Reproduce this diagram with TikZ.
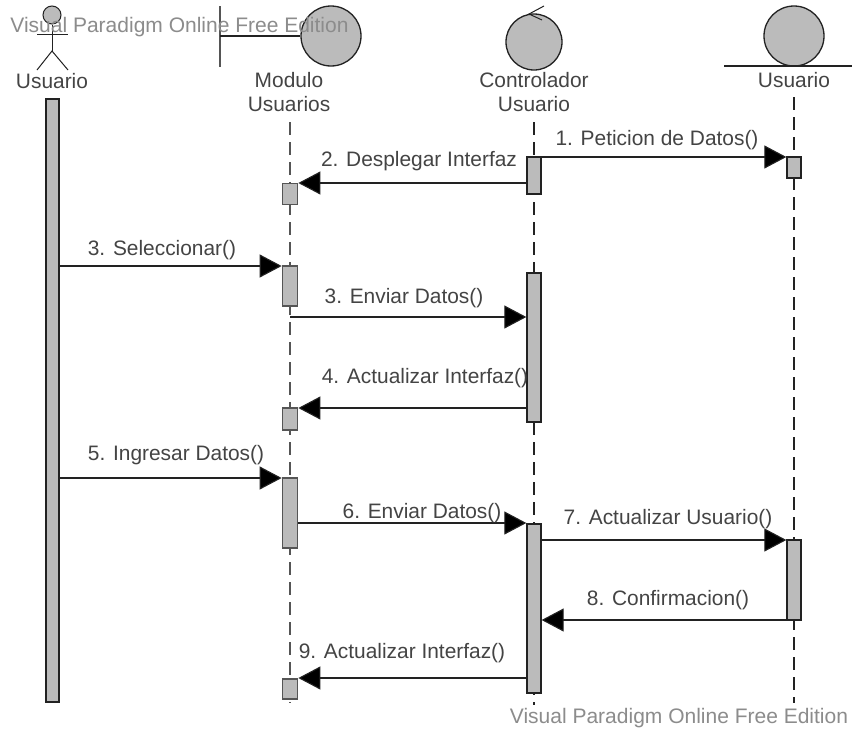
\documentclass[tikz,border=0pt]{standalone}
\usepackage{fontspec}
\setmainfont{Liberation Sans}
\usetikzlibrary{arrows.meta}
\definecolor{ink}{HTML}{222222}
\definecolor{txt}{HTML}{444444}
\definecolor{fillg}{HTML}{BBBBBB}
\definecolor{wm}{HTML}{8C8C8C}
\definecolor{gline}{HTML}{555555}
\tikzset{
  lab/.style={text=txt,inner sep=0pt,align=center,font=\fontsize{20.9}{24}\selectfont},
  wmark/.style={text=wm,inner sep=0pt,font=\fontsize{21}{24}\selectfont},
  act/.style={draw=ink,fill=fillg,line width=1.3pt,inner sep=0pt,minimum width=14pt},
  actg/.style={act,draw=gline,line width=1.7pt,minimum width=15pt},
  ball/.style={circle,draw=ink,fill=fillg,line width=1.3pt,inner sep=0pt},
  msg/.style={draw=ink,line width=1.1pt,-{Triangle[length=22pt,width=23pt,fill=black]}},
  lifeD/.style={draw=ink,line width=1.1pt,dash pattern=on 13pt off 7pt},
  lifeG/.style={draw=gline,line width=1.7pt,dash pattern=on 13pt off 7pt},
  stick/.style={draw=ink,line width=1pt},
}
\begin{document}
\begin{tikzpicture}[x=1pt,y=-1pt]
\useasboundingbox (0,0) rectangle (852,731);
\fill[white] (0,0) rectangle (852,731);
% lifeline ends
\coordinate (lmT) at (290,122); \coordinate (lmB) at (290,703);
\coordinate (lcT) at (534,122); \coordinate (lcB) at (534,705);
\coordinate (leT) at (794,97);  \coordinate (leB) at (794,703);
\draw[lifeG] (lmT) -- (lmB);
\draw[lifeD] (lcT) -- (lcB);
\draw[lifeD] (leT) -- (leB);
% actor
\node[circle,draw=ink,fill=fillg,line width=1pt,minimum size=18pt,inner sep=0pt] (head) at (52,15) {};
\coordinate (hip) at (52,51); \coordinate (armL) at (37,34); \coordinate (armR) at (68,34);
\coordinate (legL) at (37,70); \coordinate (legR) at (68,70);
\draw[stick] (head.south) -- (hip);
\draw[stick] (armL) -- (armR);
\draw[stick] (legL) -- (hip) -- (legR);
\node[lab] (tA) at (52,81.5) {Usuario};
% boundary
\coordinate (bvT) at (220,6); \coordinate (bvB) at (220,67); \coordinate (bvM) at (220,36);
\node[ball,minimum size=60pt] (bc) at (331,36) {};
\draw[draw=gline,line width=1.6pt] (bvT) -- (bvB);
\draw[draw=ink,line width=1.2pt] (bvM) -- (bc.west);
\node[lab] (tM) at (289,92.5) {Modulo\\Usuarios};
% controller
\node[ball,minimum size=56pt] (cc) at (534,42) {};
\coordinate (ca) at (529,14); \coordinate (ca1) at (544,6); \coordinate (ca2) at (542,20);
\draw[stick] (ca1) -- (ca) -- (ca2);
\node[lab] (tC) at (534,92.5) {Controlador\\Usuario};
% entity
\node[ball,minimum size=60pt] (ec) at (794,36) {};
\coordinate (eL) at (724,66); \coordinate (eR) at (852,66);
\draw[draw=ink,line width=1.2pt] (eL) -- (eR);
\node[lab] (tE) at (794,80.5) {Usuario};
% activations
\node[act,minimum width=13pt,minimum height=603pt] (a0) at (52.5,400.5) {};
\node[actg,minimum height=21pt] (m1) at (290,194) {};
\node[actg,minimum height=40pt] (m2) at (290,286) {};
\node[actg,minimum height=22pt] (m3) at (290,419) {};
\node[actg,minimum height=70pt] (m4) at (290,513) {};
\node[actg,minimum height=20pt] (m5) at (290,689) {};
\node[act,minimum height=37pt] (c1) at (534,175.5) {};
\node[act,minimum height=149pt] (c2) at (534,347.5) {};
\node[act,minimum height=169pt] (c3) at (534,608.5) {};
\node[act,minimum height=21pt] (e1) at (794,167.5) {};
\node[act,minimum height=80pt] (e2) at (794,580) {};
% messages
\draw[msg] (c1.east |- 0,157) -- (e1.west |- 0,157);
\draw[msg] (c1.west |- 0,183) -- (m1.east |- 0,183);
\draw[msg] (a0.east |- 0,266) -- (m2.west |- 0,266);
\draw[msg] (m2.center |- 0,317) -- (c2.west |- 0,317);
\draw[msg] (c2.west |- 0,408) -- (m3.east |- 0,408);
\draw[msg] (a0.east |- 0,478) -- (m4.west |- 0,478);
\draw[msg] (m4.east |- 0,523) -- (c3.west |- 0,523);
\draw[msg] (c3.east |- 0,540) -- (e2.west |- 0,540);
\draw[msg] (e2.west |- 0,620) -- (c3.east |- 0,620);
\draw[msg] (c3.west |- 0,678) -- (m5.east |- 0,678);
% labels
\node[lab] (l1) at (657,140) {1. Peticion de Datos()};
\node[lab] (l2) at (419,161) {2. Desplegar Interfaz};
\node[lab] (l3) at (162,250) {3. Seleccionar()};
\node[lab] (l3b) at (404,298) {3. Enviar Datos()};
\node[lab] (l4) at (425,378) {4. Actualizar Interfaz()};
\node[lab] (l5) at (176,455) {5. Ingresar Datos()};
\node[lab] (l6) at (422,513) {6. Enviar Datos()};
\node[lab] (l7) at (668,519) {7. Actualizar Usuario()};
\node[lab] (l8) at (668,600) {8. Confirmacion()};
\node[lab] (l9) at (402,653) {9. Actualizar Interfaz()};
% watermarks
\node[wmark] (w1) at (179.5,27) {Visual Paradigm Online Free Edition};
\node[wmark] (w2) at (679,718) {Visual Paradigm Online Free Edition};
\end{tikzpicture}
\end{document}
